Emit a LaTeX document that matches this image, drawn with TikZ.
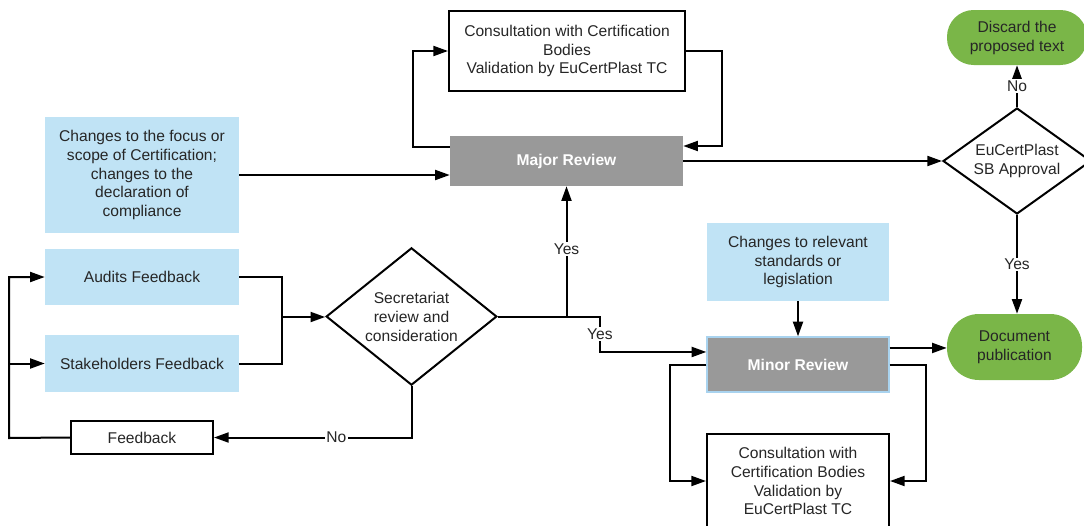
\documentclass[tikz,border=0pt]{standalone}
\usepackage{fontspec}
\setmainfont{Liberation Sans}
\usetikzlibrary{arrows.meta,shapes.geometric}

\definecolor{inputblue}{HTML}{C0E3F5}
\definecolor{reviewgray}{HTML}{999999}
\definecolor{endgreen}{HTML}{7AB648}
\definecolor{minorrim}{HTML}{A9D3EF}

\begin{document}
\begin{tikzpicture}[x=0.75pt,y=-0.75pt,
  every node/.style={font=\fontsize{11.7}{14.2}\selectfont,text=black!85,align=center},
  flow/.style={line width=1.5pt},
  arr/.style={flow,-{Triangle[length=11pt,width=7.5pt]}},
  inbox/.style={fill=inputblue,inner sep=0pt},
  plainbox/.style={draw,line width=1.5pt,fill=white,inner sep=0pt},
  reviewbox/.style={fill=reviewgray,text=white,font=\fontsize{11.7}{14.2}\selectfont\bfseries,inner sep=0pt},
  decision/.style={diamond,draw,line width=1.5pt,fill=white,inner sep=0pt},
  terminal/.style={fill=endgreen,rounded corners=20pt,inner sep=0pt},
  answer/.style={fill=white,inner sep=1pt}]
  \useasboundingbox (0,0) rectangle (1084,525);

  % inputs on the left
  \node[inbox,minimum width=145.5pt,minimum height=87pt] (focus) at (142,175)
    {Changes to the focus or\\scope of Certification;\\changes to the\\declaration of\\compliance};
  \node[inbox,minimum width=145.5pt,minimum height=42pt] (audits) at (142,277) {Audits Feedback};
  \node[inbox,minimum width=145.5pt,minimum height=42.5pt] (stake) at (142,363.5) {Stakeholders Feedback};
  \node[plainbox,minimum width=106.5pt,minimum height=24.75pt] (fback) at (142,437.5) {Feedback};
  \node[decision,shape aspect=1.25,minimum width=128pt,minimum height=103pt] (secr) at (411.5,316.5)
    {Secretariat\\review and\\consideration};

  % major review branch
  \node[reviewbox,minimum width=174.75pt,minimum height=37.5pt] (major) at (566.5,161) {Major Review};
  \node[plainbox,minimum width=177pt,minimum height=60pt] (cons1) at (567,51)
    {Consultation with Certification\\Bodies\\Validation by EuCertPlast TC};
  \node[decision,shape aspect=1.4,minimum width=111pt,minimum height=79.5pt] (sb) at (1017,161)
    {EuCertPlast\\SB Approval};
  \node[terminal,minimum width=105pt,minimum height=41.25pt] (discard) at (1017,37.5)
    {Discard the\\proposed text};

  % minor review branch
  \node[inbox,minimum width=136.5pt,minimum height=58.5pt] (changes) at (798,262)
    {Changes to relevant\\standards or\\legislation};
  \node[reviewbox,draw=minorrim,line width=1pt,minimum width=136.5pt,minimum height=41.25pt] (minor) at (798,364.5) {Minor Review};
  \node[plainbox,minimum width=136.5pt,minimum height=70.5pt] (cons2) at (798,481)
    {Consultation with\\Certification Bodies\\Validation by\\EuCertPlast TC};
  \node[terminal,rounded corners=24pt,minimum width=101.25pt,minimum height=49.5pt] (publ) at (1014.5,347)
    {Document\\publication};

  \coordinate (join) at (282,317);
  \coordinate (back) at (9,438);

  % feedback loop
  \draw[flow] (audits.east) -| (join) |- (stake.east);
  \draw[arr] (join) -- (join -| secr.west);
  \draw[arr] (secr.south) |- node[answer,pos=0.69] {No} (fback.east);
  \draw[arr] (fback.west) -- (back) |- (audits.west);
  \draw[arr] (back |- stake.west) -- (stake.west);

  % decisions out of the secretariat
  \draw[arr] (secr.east) -| node[answer,pos=0.76] {Yes} (major.south);
  \draw[arr] (secr.east) -- ++(102,0) |- node[answer,pos=0.25] {Yes} ([yshift=9.4pt]minor.west);

  % major review
  \draw[arr] (focus.east) -- (focus.east -| major.west);
  \draw[arr] ([yshift=10.5pt]major.west) -- ++(-37,0) |- (cons1.west);
  \draw[arr] (cons1.east) -- ++(36,0) |- ([yshift=11.25pt]major.east);
  \draw[arr] (major.east) -- (sb.west);
  \draw[arr] (sb.north) -- node[answer] {No} (discard.south -| sb.north);
  \draw[arr] (sb.south) -- node[answer] {Yes} (sb.south |- publ.north);

  % minor review
  \draw[arr] (changes.south) -- (minor.north);
  \draw[arr] ([yshift=12.4pt]minor.east) -- ([yshift=12.4pt]minor.east -| publ.west);
  \draw[arr] (minor.west) -- ++(-36,0) |- (cons2.west);
  \draw[arr] (minor.east) -- ++(36,0) |- (cons2.east);
\end{tikzpicture}
\end{document}
